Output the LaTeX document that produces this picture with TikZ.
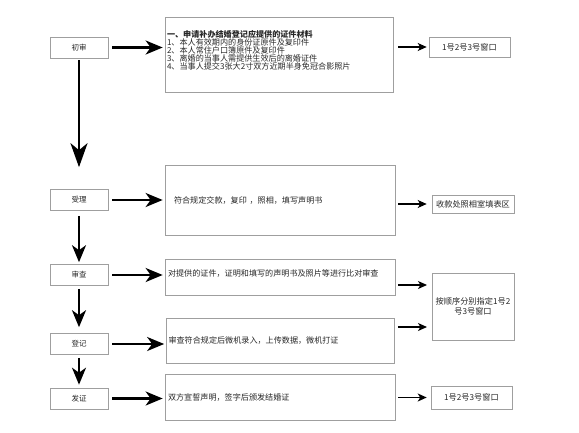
\documentclass[tikz,border=0pt]{standalone}
\usepackage{fontspec}
\setmainfont{Noto Sans CJK SC}
\usetikzlibrary{arrows.meta}

\begin{document}
\begin{tikzpicture}[x = 1pt, y = -1pt]
	\tikzstyle{stepStyle} = [draw = gray!75, line width = 0.6pt, minimum width = 58pt, minimum height = 21pt, inner sep = 0pt, text = black!85, font = \fontsize{7.5}{8}\selectfont]
	\tikzstyle{detailStyle} = [draw = gray!75, line width = 0.7pt, text width = 224pt, align = left, inner xsep = 2pt, inner ysep = 0pt, text = black!85, font = \fontsize{8.1}{8.2}\selectfont]
	\tikzstyle{windowStyle} = [draw = gray!75, line width = 0.6pt, inner sep = 0pt, align = center, text = black!85, font = \fontsize{8.2}{10}\selectfont]
	\tikzstyle{bigArrow} = [line width = 2.2pt, -{Stealth[length = 17pt, width = 14pt, inset = 5pt]}]
	\tikzstyle{hugeArrow} = [line width = 2.4pt, -{Stealth[length = 24pt, width = 17pt, inset = 7pt]}]
	\tikzstyle{smallArrow} = [line width = 1.3pt, -{Stealth[length = 9pt, width = 8pt, inset = 2.5pt]}]
	\useasboundingbox (0,0) rectangle (579,432);
	\node[stepStyle] (chushen) at (79,47.5) {初审};
	\node[stepStyle] (shouli) at (79,200) {受理};
	\node[stepStyle] (shencha) at (79,275) {审查};
	\node[stepStyle] (dengji) at (79,344) {登记};
	\node[stepStyle] (fazheng) at (79,398.5) {发证};
	\node[detailStyle, minimum width = 228pt, minimum height = 75pt] (m1) at (279,54.5) {{\bfseries 一、申请补办结婚登记应提供的证件材料}\\1、本人有效期内的身份证原件及复印件\\2、本人常住户口簿原件及复印件\\3、离婚的当事人需提供生效后的离婚证件\\4、当事人提交3张大2寸双方近期半身免冠合影照片\rule[-9pt]{0pt}{9pt}};
	\node[detailStyle, minimum width = 230pt, minimum height = 70pt] (m2) at (280,200) {\hspace*{6pt}符合规定交款，复印 ，照相，填写声明书};
	\node[detailStyle, minimum width = 230pt, minimum height = 36pt] (m3) at (280,277) {对提供的证件，证明和填写的声明书及照片等进行比对审查\rule[-8pt]{0pt}{8pt}};
	\node[detailStyle, minimum width = 227pt, minimum height = 45pt] (m4) at (280.5,340.5) {审查符合规定后微机录入，上传数据，微机打证};
	\node[detailStyle, minimum width = 230pt, minimum height = 46pt] (m5) at (280,397) {双方宣誓声明，签字后颁发结婚证};
	\node[windowStyle, minimum width = 81pt, minimum height = 20pt] (w1) at (469.5,47) {1号2号3号窗口};
	\node[windowStyle, minimum width = 82pt, minimum height = 18pt] (w2) at (473,204) {收款处照相室填表区};
	\node[windowStyle, minimum width = 82pt, minimum height = 67pt] (w3) at (473,306.5) {按顺序分别指定1号2\\号3号窗口};
	\node[windowStyle, minimum width = 81pt, minimum height = 23pt] (w5) at (471.5,397.5) {1号2号3号窗口};
	\coordinate (in3) at (432,285);
	\coordinate (in4) at (432,327);
	\draw[hugeArrow, shorten < = 2pt, shorten > = 22pt] (chushen) -- (shouli);
	\draw[bigArrow, shorten < = 5pt, shorten > = 2pt] (shouli) -- (shencha);
	\draw[bigArrow, shorten < = 3pt, shorten > = 6pt] (shencha) -- (dengji);
	\draw[bigArrow, shorten < = 3pt, shorten > = 3pt] (dengji) -- (fazheng);
	\draw[bigArrow, shorten < = 4pt, shorten > = 2pt] (chushen.east) -- (chushen.east -| m1.west);
	\draw[bigArrow, shorten < = 4pt, shorten > = 2pt] (shouli.east) -- (shouli.east -| m2.west);
	\draw[bigArrow, shorten < = 4pt, shorten > = 2pt] (shencha.east) -- (shencha.east -| m3.west);
	\draw[bigArrow, shorten < = 4pt, shorten > = 2pt] (dengji.east) -- (dengji.east -| m4.west);
	\draw[bigArrow, shorten < = 4pt, shorten > = 2pt] (fazheng.east) -- (fazheng.east -| m5.west);
	\draw[smallArrow, shorten < = 5pt, shorten > = 2pt] (w1.west -| m1.east) -- (w1.west);
	\draw[smallArrow, shorten < = 3pt, shorten > = 5pt] (w2.west -| m2.east) -- (w2.west);
	\draw[smallArrow, shorten < = 3pt, shorten > = 5pt] (in3 -| m3.east) -- (in3);
	\draw[smallArrow, shorten < = 3pt, shorten > = 5pt] (in4 -| m4.east) -- (in4);
	\draw[smallArrow, shorten < = 3pt, shorten > = 4pt] (w5.west -| m5.east) -- (w5.west);
\end{tikzpicture}
\end{document}
